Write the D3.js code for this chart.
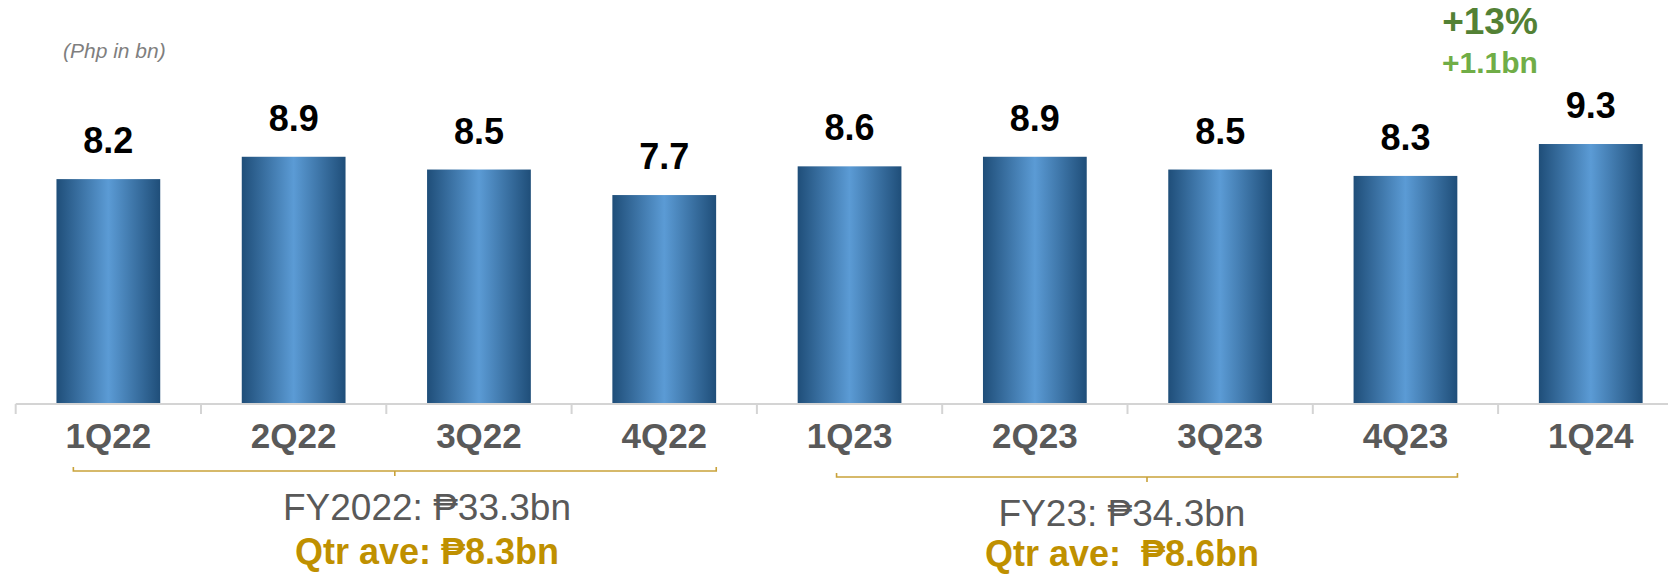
<!DOCTYPE html>
<html>
<head>
<meta charset="utf-8">
<script src="https://cdn.jsdelivr.net/npm/d3@7"></script>
<style>
  body { margin: 0; background: #fff; }
  svg { display: block; font-family: Arial, "Liberation Sans", sans-serif; }
</style>
</head>
<body>
<div id="chart"></div>
<script>
// data
var quarters = ["1Q22", "2Q22", "3Q22", "4Q22", "1Q23", "2Q23", "3Q23", "4Q23", "1Q24"];
var revenue = [8.2, 8.9, 8.5, 7.7, 8.6, 8.9, 8.5, 8.3, 9.3];
var valueLabels = ["8.2", "8.9", "8.5", "7.7", "8.6", "8.9", "8.5", "8.3", "9.3"];

var periodSpans = [["1Q22", "4Q22"], ["1Q23", "4Q23"]];
var periodTotals = ["FY2022: \u20B133.3bn", "FY23: \u20B134.3bn"];
var periodAverages = ["Qtr ave: \u20B18.3bn", "Qtr ave:  \u20B18.6bn"];

var growthPct = "+13%";
var growthAbs = "+1.1bn";
var unitNote = "(Php in bn)";

// layout
var svgWidth = 1668;
var svgHeight = 574;
var axisY = 404;

var svg = d3.select("#chart")
  .append("svg")
  .attr("width", svgWidth)
  .attr("height", svgHeight);

var defs = svg.append("defs");
var grad = defs.append("linearGradient")
  .attr("id", "barGrad")
  .attr("x1", "0%").attr("x2", "100%")
  .attr("y1", "0%").attr("y2", "0%");
grad.append("stop").attr("offset", "0%").attr("stop-color", "#1F4E79");
grad.append("stop").attr("offset", "50%").attr("stop-color", "#5B9BD5");
grad.append("stop").attr("offset", "100%").attr("stop-color", "#1F4E79");

var xScale = d3.scaleBand()
  .domain(quarters)
  .range([15.7, 1683.4])
  .paddingInner(0.44)
  .paddingOuter(0.22);

var yScale = d3.scaleLinear()
  .domain([1.15, 10])
  .range([axisY, axisY - 31.9 * 8.85]);

var step = xScale.step();
var halfGap = step * xScale.paddingInner() / 2;

// bars
svg.append("g")
  .selectAll("rect")
  .data(revenue)
  .enter()
  .append("rect")
  .attr("x", (d, i) => xScale(quarters[i]))
  .attr("y", d => yScale(d))
  .attr("width", xScale.bandwidth())
  .attr("height", d => axisY - yScale(d))
  .attr("fill", "url(#barGrad)");

// value labels
svg.append("g")
  .selectAll("text")
  .data(revenue)
  .enter()
  .append("text")
  .attr("x", (d, i) => xScale(quarters[i]) + xScale.bandwidth() / 2)
  .attr("y", d => yScale(d) - 26)
  .attr("text-anchor", "middle")
  .attr("font-size", "36px")
  .attr("font-weight", "bold")
  .attr("fill", "#000")
  .text((d, i) => valueLabels[i]);

// axis line + boundary ticks
var axisG = svg.append("g");
axisG.append("line")
  .attr("x1", xScale.range()[0]).attr("x2", xScale.range()[1])
  .attr("y1", axisY).attr("y2", axisY)
  .attr("stroke", "#d4d4d4").attr("stroke-width", 2);

var boundaries = quarters.map(q => xScale(q) - halfGap);
axisG.selectAll(".tick-mark")
  .data(boundaries)
  .enter()
  .append("line")
  .attr("class", "tick-mark")
  .attr("x1", d => d).attr("x2", d => d)
  .attr("y1", axisY).attr("y2", axisY + 10)
  .attr("stroke", "#d4d4d4").attr("stroke-width", 2);

// category labels
var xAxis = d3.axisBottom(xScale).tickSize(0);
var labelG = svg.append("g")
  .attr("transform", `translate(0, ${axisY})`)
  .call(xAxis);
labelG.select(".domain").remove();
labelG.selectAll("text")
  .attr("y", 44)
  .attr("dy", null)
  .attr("font-size", "35px")
  .attr("font-weight", "bold")
  .attr("font-family", "Arial, 'Liberation Sans', sans-serif")
  .attr("fill", "#595959");

// period brackets
var bracketLayout = [
  {left: -35, right: 52, y: 471, textX: 427, totalY: 520, aveY: 564},
  {left: -13, right: 52, y: 477, textX: 1122, totalY: 526, aveY: 566}
];

periodSpans.forEach(function(span, i) {
  var L = bracketLayout[i];
  var x0 = xScale(span[0]) + xScale.bandwidth() / 2 + L.left;
  var x1 = xScale(span[1]) + xScale.bandwidth() / 2 + L.right;
  var xm = (x0 + x1) / 2;
  var g = svg.append("g")
    .attr("fill", "none")
    .attr("stroke", "#C9A23A")
    .attr("stroke-width", 1.6);
  g.append("path")
    .attr("d", `M${x0},${L.y - 4}V${L.y}H${x1}V${L.y - 4}M${xm},${L.y}V${L.y + 5}`);

  svg.append("text")
    .attr("x", L.textX)
    .attr("y", L.totalY)
    .attr("text-anchor", "middle")
    .attr("font-size", "37px")
    .attr("fill", "#595959")
    .style("white-space", "pre")
    .text(periodTotals[i]);

  svg.append("text")
    .attr("x", L.textX)
    .attr("y", L.aveY)
    .attr("text-anchor", "middle")
    .attr("font-size", "36px")
    .attr("font-weight", "bold")
    .attr("fill", "#BF9000")
    .style("white-space", "pre")
    .text(periodAverages[i]);
});

// unit note
svg.append("text")
  .attr("x", 63)
  .attr("y", 58)
  .attr("font-size", "21px")
  .attr("font-style", "italic")
  .attr("fill", "#7F7F7F")
  .text(unitNote);

// growth callout
svg.append("text")
  .attr("x", 1490)
  .attr("y", 34)
  .attr("text-anchor", "middle")
  .attr("font-size", "37px")
  .attr("font-weight", "bold")
  .attr("fill", "#538135")
  .text(growthPct);

svg.append("text")
  .attr("x", 1490)
  .attr("y", 73)
  .attr("text-anchor", "middle")
  .attr("font-size", "30px")
  .attr("font-weight", "bold")
  .attr("fill", "#70AD47")
  .text(growthAbs);
</script>
</body>
</html>
